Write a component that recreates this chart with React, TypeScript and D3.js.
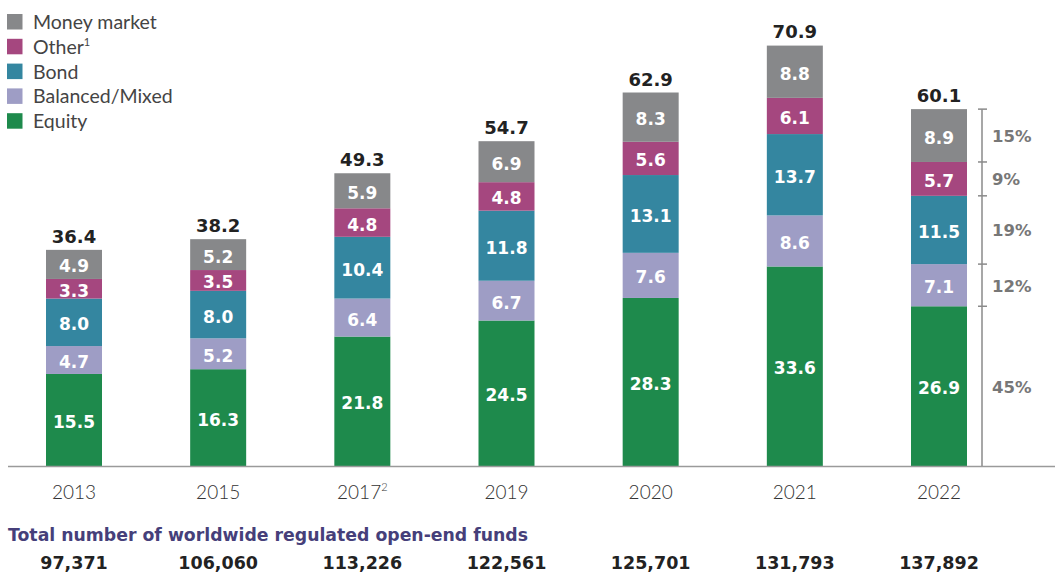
import React from "react";
import * as d3 from "d3";

const years = ["2013", "2015", "2017", "2019", "2020", "2021", "2022"];
const yearSup = ["", "", "2", "", "", "", ""];
const equity = [15.5, 16.3, 21.8, 24.5, 28.3, 33.6, 26.9];
const balanced = [4.7, 5.2, 6.4, 6.7, 7.6, 8.6, 7.1];
const bond = [8.0, 8.0, 10.4, 11.8, 13.1, 13.7, 11.5];
const other = [3.3, 3.5, 4.8, 4.8, 5.6, 6.1, 5.7];
const moneyMarket = [4.9, 5.2, 5.9, 6.9, 8.3, 8.8, 8.9];
const totals = [36.4, 38.2, 49.3, 54.7, 62.9, 70.9, 60.1];
const fundCounts = ["97,371", "106,060", "113,226", "122,561", "125,701", "131,793", "137,892"];
const sharePct = ["45%", "12%", "19%", "9%", "15%"];

const seriesKeys = ["equity", "balanced", "bond", "other", "money"];
const seriesNames = ["Equity", "Balanced/Mixed", "Bond", "Other", "Money market"];
const seriesSup = ["", "", "", "1", ""];
const seriesColors = ["#1e8a4c", "#9e9dc5", "#3486a0", "#a5477f", "#87888a"];

const REG = "Lato, 'Open Sans', sans-serif";
const BOLD = "'DejaVu Sans', Verdana, sans-serif";

export default function App() {
  const W = 1055, H = 575;
  const baseY = 466;
  const rows = years.map((y, i) => ({
    year: y,
    equity: equity[i],
    balanced: balanced[i],
    bond: bond[i],
    other: other[i],
    money: moneyMarket[i],
  }));
  const stacked = d3.stack<any>().keys(seriesKeys)(rows);
  const xc = d3.scalePoint().domain(years).range([74, 939]);
  const bw = 56;
  const y = d3.scaleLinear().domain([0, 70.9]).range([baseY, 45]);
  const last = years.length - 1;
  const bracketX = 982;

  return (
    <div style={{ position: "absolute", left: 0, top: 0 }}>
      <svg width={W} height={H} style={{ display: "block", fontFamily: REG }}>
        {/* legend */}
        {seriesNames.map((_, k) => {
          const idx = seriesNames.length - 1 - k;
          const name = seriesNames[idx];
          const ly = 14 + k * 24.8;
          return (
            <g key={name}>
              <rect x={7} y={ly} width={15.5} height={15.5} fill={seriesColors[idx]} />
              <text x={33} y={ly + 15} fontSize={19.5} fill="#444">
                {name}
                {seriesSup[idx] && <tspan fontSize={11} dy={-8}>{seriesSup[idx]}</tspan>}
              </text>
            </g>
          );
        })}
        {/* bars */}
        {stacked.map((s, si) => (
          <g key={s.key}>
            {s.map((d, i) => {
              const cx = xc(years[i])!;
              const y0 = y(d[1]);
              const y1 = y(d[0]);
              const val = d[1] - d[0];
              return (
                <g key={i}>
                  <rect x={cx - bw / 2} y={y0} width={bw} height={y1 - y0} fill={seriesColors[si]} />
                  <text x={cx} y={(y0 + y1) / 2 + 8} textAnchor="middle" fontFamily={BOLD} fontSize={17} fontWeight={700} fill="#fff">
                    {val.toFixed(1)}
                  </text>
                </g>
              );
            })}
          </g>
        ))}
        {/* totals */}
        {totals.map((t, i) => (
          <text key={i} x={xc(years[i])!} y={y(t) - 7} textAnchor="middle" fontFamily={BOLD} fontSize={18} fontWeight={700} fill="#222">
            {t.toFixed(1)}
          </text>
        ))}
        {/* baseline */}
        <line x1={8} x2={1055} y1={baseY + 0.5} y2={baseY + 0.5} stroke="#9a9a9a" strokeWidth={1.5} />
        {/* bracket */}
        <line x1={bracketX} x2={bracketX} y1={y(totals[last])} y2={baseY} stroke="#8a8a8a" strokeWidth={1.5} />
        {stacked.map((s, si) => {
          const d = s[last];
          return (
            <g key={"b" + si}>
              <line x1={bracketX - 4} x2={bracketX + 5} y1={y(d[1])} y2={y(d[1])} stroke="#8a8a8a" strokeWidth={1.5} />
              <text x={992} y={(y(d[0]) + y(d[1])) / 2 + 6.5} fontFamily={BOLD} fontSize={16.5} fontWeight={700} fill="#777">
                {sharePct[si]}
              </text>
            </g>
          );
        })}
        {/* year labels */}
        {years.map((yr, i) => (
          <text key={yr} x={xc(yr)!} y={499} textAnchor="middle" fontSize={19} fill="#333" fontWeight={300}>
            {yr}
            {yearSup[i] && <tspan fontSize={11} dy={-8}>{yearSup[i]}</tspan>}
          </text>
        ))}
        <text x={8} y={541} fontFamily={BOLD} fontSize={17.3} fontWeight={700} fill="#463f7a">
          Total number of worldwide regulated open-end funds
        </text>
        {fundCounts.map((c, i) => (
          <text key={c} x={xc(years[i])!} y={569} textAnchor="middle" fontFamily={BOLD} fontSize={17.5} fontWeight={700} fill="#222">
            {c}
          </text>
        ))}
      </svg>
    </div>
  );
}
